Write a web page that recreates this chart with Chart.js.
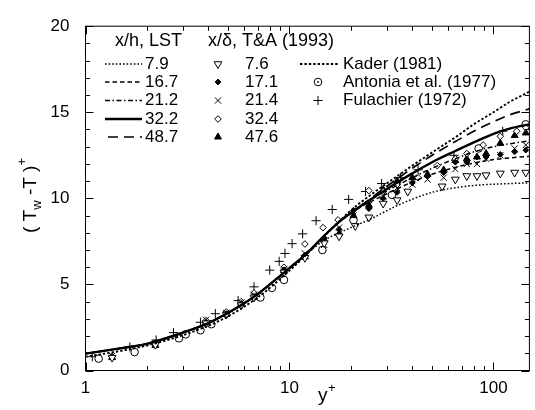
<!DOCTYPE html>
<html><head><meta charset="utf-8">
<script src="https://cdn.jsdelivr.net/npm/chart.js@4.4.1/dist/chart.umd.min.js"></script>
<style>html,body{margin:0;padding:0;background:#fff}#wrap{width:535px;height:410px}</style>
</head><body><div id="wrap"><canvas id="c" width="535" height="410"></canvas></div>
<script>
const FONT = '"Liberation Sans", Arial, Helvetica, sans-serif';

// ---- axis ticks ----
const xAxisTicks = [1, 10, 100];
const yAxisTicks = [0, 5, 10, 15, 20];
const xRange = [1, 150];
const yRange = [0, 20];

// ---- LST curves (x/h) ----
const lstLow = [[1,0.98],[1.5,1.3],[2,1.55],[3,2.2],[4,2.75],[5,3.35],[6,3.9],[7,4.45],[8,5.0],[10,5.95],[12,6.75]];
const lst79Tail = [[15,7.6],[20,8.3],[25,8.8],[32,9.45],[40,9.95],[50,10.35],[60,10.55],[80,10.75],[100,10.82],[150,10.9]];
const lst167Tail = [[15,7.9],[18,8.75],[22,9.45],[27,10.0],[33,10.5],[40,10.95],[50,11.4],[65,11.8],[80,12.05],[100,12.25],[150,12.45]];
const lst212Tail = [[15,7.9],[18,8.75],[22,9.5],[27,10.15],[33,10.7],[40,11.2],[50,11.75],[65,12.3],[80,12.7],[100,13.0],[150,13.35]];
const lst322Tail = [[15,7.9],[18,8.75],[22,9.5],[27,10.2],[33,10.85],[40,11.45],[50,12.1],[65,12.75],[80,13.25],[100,13.75],[120,14.05],[150,14.3]];
const lst487Tail = [[15,7.9],[18,8.75],[22,9.5],[27,10.3],[33,11.05],[40,11.75],[50,12.5],[65,13.3],[80,13.9],[100,14.45],[120,14.85],[150,15.2]];
const kader1981 = [[1,0.8],[1.5,1.15],[2,1.45],[3,2.05],[4,2.6],[5,3.15],[7,4.25],[10,5.8],[13,7.1],[16,8.2],[20,9.3],[25,10.2],[32,11.1],[40,11.9],[52,12.8],[66,13.6],[80,14.3],[100,15.0],[120,15.6],[150,16.2]];

// ---- T&A (1993) measurements (x/delta) ----
const ta76 = [[1.35,0.75],[2.2,1.5],[3.9,2.75],[4.9,3.25],[5.8,3.8],[6.7,4.25],[9.4,5.7],[11.9,6.55],[14.8,7.4],[17.5,7.8],[21,8.4],[24.5,8.9],[28.8,9.7],[33.7,9.9],[38,10.4],[56,10.7],[65,11.1],[74,11.3],[83,11.3],[92,11.35],[108,11.45],[127,11.5],[144,11.5]];
const ta171 = [[1.35,0.8],[2.2,1.55],[3.9,2.8],[4.9,3.3],[5.8,3.9],[6.7,4.3],[9.4,5.85],[11.9,6.7],[14.8,7.7],[17.5,8.2],[20.6,9.3],[24.5,9.4],[28.8,10.0],[33.7,10.35],[40,10.9],[47.5,11.3],[57,11.5],[65,12.1],[74,12.1],[83,12.4],[92,12.4],[108,12.55],[127,12.7],[144,12.8]];
const ta214 = [[1.35,0.85],[2.2,1.6],[3.9,2.95],[4.9,3.35],[5.8,3.95],[6.7,4.4],[9.4,5.9],[11.9,6.8],[14.8,7.3],[17.5,8.3],[20.6,9.0],[24.5,9.6],[28.8,10.1],[33.7,10.6],[40,10.8],[47.5,11.1],[57,11.2],[65,11.7],[74,12.0],[83,12.0],[92,12.3],[108,12.5],[127,12.9],[144,13.1]];
const ta324 = [[1.35,0.8],[2.2,1.6],[3.9,2.9],[4.9,3.4],[5.8,4.0],[6.7,4.5],[9.4,6.0],[11.9,7.35],[14.6,8.3],[17.3,8.75],[24.5,10.45],[28.8,10.4],[33.7,10.8],[42.7,11.2],[53,11.9],[65,12.3],[74,12.6],[89,13.1],[108,13.6],[130,13.9],[144,14.1]];
const ta476 = [[1.35,0.75],[2.2,1.45],[3.9,2.8],[4.9,3.25],[5.8,3.85],[6.7,4.25],[9.4,5.8],[11.9,6.6],[14.8,7.6],[17.5,7.95],[20.6,9.0],[24.5,9.6],[28.8,10.5],[33.7,11.0],[40,11.2],[47.5,11.4],[57,11.65],[65,12.2],[74,12.3],[83,12.4],[92,12.6],[108,13.2],[127,13.65],[144,13.8]];

// ---- other references ----
const antonia1977 = [[1.16,0.69],[1.74,1.07],[2.87,1.87],[3.1,2.1],[3.66,2.34],[4.14,2.69],[7.2,4.24],[8.2,4.8],[9.4,5.26],[14.5,7.0],[20.6,8.74],[31.8,10.2],[84.6,12.9],[144,14.3]];
const fulachier1972 = [[1.08,0.8],[1.65,1.37],[2.22,1.77],[2.7,2.2],[3.66,2.8],[4.33,3.3],[5.6,4.06],[6.7,4.86],[8.0,5.83],[8.9,6.34],[9.5,6.8],[10.3,7.37],[11.6,7.94],[13.5,8.7],[16.2,9.35],[19.5,9.94],[23.6,10.4],[28.3,10.86],[35,11.2],[42.7,11.66],[64,12.5],[111,13.9]];

const lstLabels = ['7.9','16.7','21.2','32.2','48.7'];
const taLabels = ['7.6','17.1','21.4','32.4','47.6'];

const pts = a => a.map(([x,y]) => ({x,y}));
const lineDash = {
  '7.9': [1.6, 2.0],
  '16.7': [4.5, 3],
  '21.2': [5, 2.5, 1.5, 2.5],
  '32.2': [],
  '48.7': [10, 6],
  'kader': [2.4, 2.0]
};
const lineWidth = {'7.9':1.5,'16.7':1.5,'21.2':1.5,'32.2':2.4,'48.7':1.7,'kader':1.9};

function lineDs(label, data, key){
  return {type:'line', label, data: pts(data), showLine:true, pointRadius:0, borderColor:'#000',
    borderWidth: lineWidth[key], borderDash: lineDash[key], cubicInterpolationMode:'monotone', fill:false};
}
function markDs(label, data, style, r, filled, extra){
  return Object.assign({type:'scatter', label, data: pts(data), showLine:false, pointStyle: style,
    pointRadius:r, pointHoverRadius:r, pointBorderColor:'#000', pointBorderWidth:1,
    pointBackgroundColor: filled ? '#000' : '#fff'}, extra||{});
}

const taStyles = [['triangle',4.5,false,180],['rectRot',2.9,true,0],['crossRot',4.4,false,0],['rectRot',3.3,false,0],['triangle',4,true,0]];
const taSeries = [ta76, ta171, ta214, ta324, ta476];

const datasets = [
  lineDs('7.9', lstLow.concat(lst79Tail), '7.9'),
  lineDs('16.7', lstLow.concat(lst167Tail), '16.7'),
  lineDs('21.2', lstLow.concat(lst212Tail), '21.2'),
  lineDs('32.2', lstLow.concat(lst322Tail), '32.2'),
  lineDs('48.7', lstLow.concat(lst487Tail), '48.7'),
  lineDs('Kader (1981)', kader1981, 'kader')
].concat(taSeries.map((s, i) => markDs(taLabels[i], s, taStyles[i][0], taStyles[i][1], taStyles[i][2], {rotation: taStyles[i][3]})))
 .concat([
  markDs('Antonia et al. (1977)', antonia1977, 'circle', 3.8, false),
  markDs('Antonia dot', antonia1977, 'circle', 0.9, true, {pointBorderWidth:0}),
  markDs('Fulachier (1972)', fulachier1972, 'cross', 4.6, false)
]);

const framePlugin = {
  id: 'frame',
  afterDraw(chart){
    const {ctx, chartArea: a, scales: {x, y}} = chart;
    ctx.save();
    ctx.strokeStyle = '#000';
    ctx.lineWidth = 1;
    ctx.strokeRect(a.left, a.top, a.right - a.left, a.bottom - a.top);
    ctx.beginPath();
    for (let d = 1; d <= 100; d *= 10) {
      for (let k = 1; k <= 9; k++) {
        const v = d * k;
        if (v < xRange[0] || v > xRange[1]) continue;
        const px = Math.round(x.getPixelForValue(v)) + 0.5;
        const len = k === 1 ? 8 : 4.5;
        ctx.moveTo(px, a.bottom); ctx.lineTo(px, a.bottom - len);
        ctx.moveTo(px, a.top); ctx.lineTo(px, a.top + len);
      }
    }
    for (let v = yRange[0]; v <= yRange[1]; v++) {
      const py = Math.round(y.getPixelForValue(v)) + 0.5;
      const len = v % 5 === 0 ? 8 : 4.5;
      ctx.moveTo(a.left, py); ctx.lineTo(a.left + len, py);
      ctx.moveTo(a.right, py); ctx.lineTo(a.right - len, py);
    }
    ctx.stroke();

    // axis titles
    ctx.fillStyle = '#000';
    ctx.textBaseline = 'alphabetic';
    ctx.textAlign = 'left';
    ctx.font = '19px ' + FONT;
    ctx.fillText('y', 318, 401);
    ctx.font = '13px ' + FONT;
    ctx.fillText('+', 328, 392);

    ctx.save();
    ctx.translate(36, 233);
    ctx.rotate(-Math.PI / 2);
    let cx = 0;
    const part = (t, size, dy) => { ctx.font = size + 'px ' + FONT; ctx.fillText(t, cx, dy); cx += ctx.measureText(t).width; };
    part('( T', 19, 0);
    part('w', 13, 5);
    part(' -T )', 19, 0);
    part('+', 13, -10);
    ctx.restore();

    // legend
    ctx.font = '18px ' + FONT;
    ctx.textBaseline = 'middle';
    ctx.fillText('x/h, LST', 115, 41);
    ctx.fillText('x/\u03B4, T&A (1993)', 208, 41);
    const rowY = [64, 82, 100.5, 119, 137];
    const lstKeys = ['7.9','16.7','21.2','32.2','48.7'];
    ctx.font = '17px ' + FONT;
    lstLabels.forEach((lab, i) => {
      const k = lstKeys[i];
      ctx.save();
      ctx.beginPath();
      ctx.setLineDash(lineDash[k]);
      ctx.lineWidth = lineWidth[k];
      ctx.moveTo(k === '48.7' ? 108 : 105, rowY[i]);
      ctx.lineTo(142, rowY[i]);
      ctx.stroke();
      ctx.restore();
      ctx.fillText(lab, 145, rowY[i]);
    });
    taLabels.forEach((lab, i) => {
      const [st, r, f, rot] = taStyles[i];
      ctx.save();
      ctx.fillStyle = f ? '#000' : '#fff';
      ctx.strokeStyle = '#000'; ctx.lineWidth = 1;
      Chart.helpers.drawPoint(ctx, {pointStyle: st, radius: r, borderWidth: 1, rotation: rot}, 218, rowY[i]);
      ctx.restore();
      ctx.fillText(lab, 245, rowY[i]);
    });
    ctx.save();
    ctx.beginPath(); ctx.setLineDash(lineDash.kader); ctx.lineWidth = lineWidth.kader;
    ctx.moveTo(300, rowY[0]); ctx.lineTo(338, rowY[0]); ctx.stroke();
    ctx.restore();
    ctx.fillText('Kader (1981)', 343, rowY[0]);
    ctx.save();
    ctx.fillStyle = '#fff'; ctx.strokeStyle = '#000'; ctx.lineWidth = 1;
    Chart.helpers.drawPoint(ctx, {pointStyle:'circle', radius:3.8, borderWidth:1}, 318, rowY[1]);
    ctx.fillStyle = '#000';
    ctx.beginPath(); ctx.arc(318, rowY[1], 0.9, 0, Math.PI*2); ctx.fill();
    Chart.helpers.drawPoint(ctx, {pointStyle:'cross', radius:4.6, borderWidth:1}, 318, rowY[2]);
    ctx.restore();
    ctx.fillText('Antonia et al. (1977)', 343, rowY[1]);
    ctx.fillText('Fulachier (1972)', 343, rowY[2]);
    ctx.restore();
  }
};

Chart.defaults.font.family = FONT;
Chart.defaults.color = '#000';

new Chart(document.getElementById('c'), {
  type: 'scatter',
  data: { datasets },
  options: {
    responsive: false,
    devicePixelRatio: 1,
    animation: false,
    layout: { padding: { top: 21, right: -1, left: 0, bottom: 0 } },
    plugins: { legend: { display: false }, tooltip: { enabled: false } },
    scales: {
      x: {
        type: 'logarithmic', min: xRange[0], max: xRange[1],
        grid: { display: false, drawTicks: false },
        border: { display: false },
        afterBuildTicks: s => { s.ticks = xAxisTicks.map(v => ({ value: v })); },
        afterFit: s => { s.height = 39.5; },
        ticks: { autoSkip: false, maxRotation: 0, padding: 8, font: { size: 17 }, color: '#000', callback: v => String(v) }
      },
      y: {
        type: 'linear', min: yRange[0], max: yRange[1],
        grid: { display: false, drawTicks: false },
        border: { display: false },
        afterBuildTicks: s => { s.ticks = yAxisTicks.map(v => ({ value: v })); },
        afterFit: s => { s.width = 85.5; },
        ticks: { autoSkip: false, padding: 16, font: { size: 17 }, color: '#000', callback: v => String(v) }
      }
    }
  },
  plugins: [framePlugin]
});
</script>
</body></html>
